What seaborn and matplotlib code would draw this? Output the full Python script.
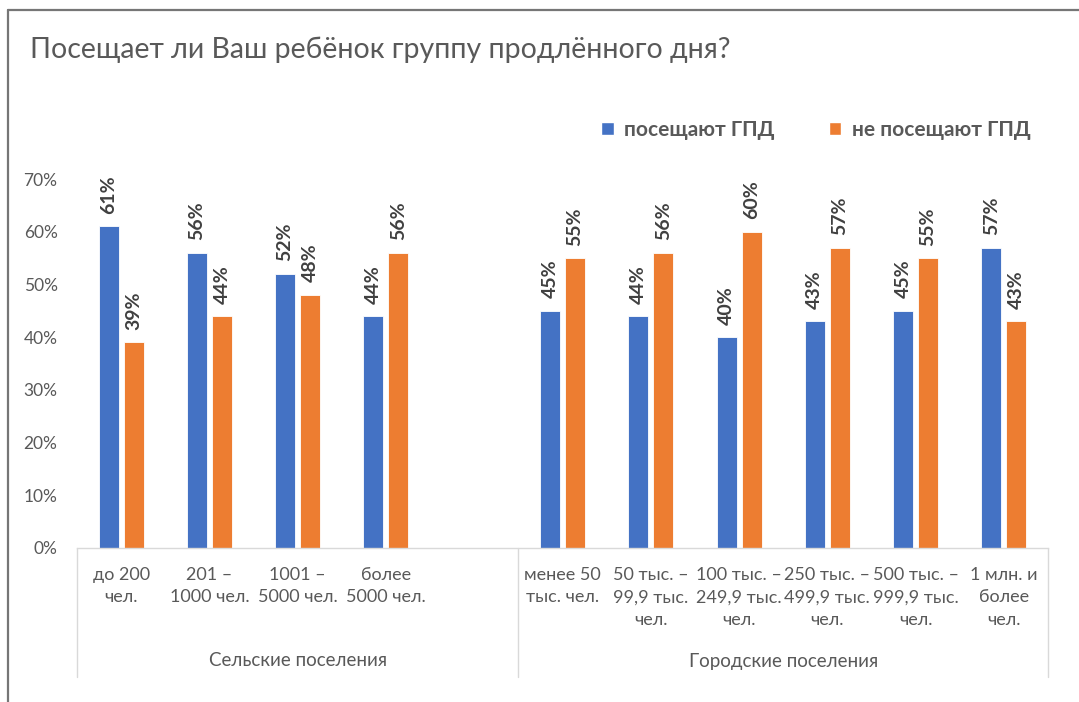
import matplotlib
matplotlib.use("Agg")
import matplotlib.pyplot as plt
import seaborn as sns
import pandas as pd
from matplotlib.patches import Patch
from matplotlib.lines import Line2D

# ---- data ----
title = "Посещает ли Ваш ребёнок группу продлённого дня?"
series_names = ["посещают ГПД", "не посещают ГПД"]
rural_cats = ["до 200\nчел.", "201 –\n1000 чел.", "1001 –\n5000 чел.", "более\n5000 чел."]
urban_cats = ["менее 50\nтыс. чел.", "50 тыс. –\n99,9 тыс.\nчел.", "100 тыс. –\n249,9 тыс.\nчел.",
              "250 тыс. –\n499,9 тыс.\nчел.", "500 тыс. –\n999,9 тыс.\nчел.", "1 млн. и\nболее\nчел."]
rural_attend = [61, 56, 52, 44]
rural_not = [39, 44, 48, 56]
urban_attend = [45, 44, 40, 43, 45, 57]
urban_not = [55, 56, 60, 57, 55, 43]
group_names = ["Сельские поселения", "Городские поселения"]
yticks = [0, 10, 20, 30, 40, 50, 60, 70]

BLUE = "#4472C4"
ORANGE = "#ED7D31"
TXT = "#595959"
LBL = "#404040"
AXC = "#D9D9D9"

# build long table
cats = rural_cats + urban_cats
attend = rural_attend + urban_attend
notatt = rural_not + urban_not
rows = []
for c, a, n in zip(cats, attend, notatt):
    rows.append((c, series_names[0], a))
    rows.append((c, series_names[1], n))
df = pd.DataFrame(rows, columns=["cat", "series", "value"])
gap_cat = " "
order = rural_cats + [gap_cat] + urban_cats

sns.set_style("white")
plt.rcParams["font.family"] = ["Lato", "DejaVu Sans"]

W, H = 1079, 702
fig = plt.figure(figsize=(W / 100, H / 100), dpi=100)
x0, x1, ytop, ybot = 77, 1048, 179, 548
ax = fig.add_axes([x0 / W, 1 - ybot / H, (x1 - x0) / W, (ybot - ytop) / H])

sns.barplot(data=df, x="cat", y="value", hue="series", order=order,
            hue_order=series_names, palette=[BLUE, ORANGE], saturation=1,
            width=0.566, gap=0.2, edgecolor="white", linewidth=0.6, ax=ax, legend=False)

ax.set_ylim(0, 70)
ax.set_xlim(-0.5, len(order) - 0.5)
ax.set_yticks(yticks)
ax.set_yticklabels([f"{t}%" for t in yticks], color=TXT, fontsize=12.5)
ax.tick_params(axis="y", length=0, pad=14)
ax.set_xticks([])
ax.set_xlabel("")
ax.set_ylabel("")
for s in ["top", "right", "left"]:
    ax.spines[s].set_visible(False)
ax.spines["bottom"].set_color(AXC)
ax.spines["bottom"].set_linewidth(1)

# data labels
for cont in ax.containers:
    labels = [f"{v:.0f}%" for v in cont.datavalues]
    ax.bar_label(cont, labels=labels, padding=9, rotation=90, fontsize=14,
                 fontweight="bold", color=LBL)

# category labels
tr = ax.get_xaxis_transform()
for i, c in enumerate(order):
    if c.strip() == "":
        continue
    ax.text(i, (ybot - 567) / (ybot - ytop), c, transform=tr, ha="center", va="top",
            fontsize=13, color=TXT, linespacing=1.5)

# group separators and names
n_rural = len(rural_cats) + 1
ysep = (ybot - 677) / (ybot - ytop)
for xs in [-0.5, n_rural - 0.5, len(order) - 0.5]:
    ax.add_line(Line2D([xs, xs], [0, ysep], transform=tr, color=AXC, lw=1, clip_on=False))
ygrp = (ybot - 661) / (ybot - ytop)
ax.text((n_rural - 1) / 2, ygrp, group_names[0], transform=tr, ha="center", va="center",
        fontsize=13.5, color=TXT)
ax.text((n_rural + len(order) - 1) / 2, ygrp, group_names[1], transform=tr, ha="center",
        va="center", fontsize=13.5, color=TXT)

# legend
handles = [Patch(facecolor=BLUE), Patch(facecolor=ORANGE)]
fig.legend(handles, series_names, loc="center", ncol=2,
           bbox_to_anchor=(816 / W, 1 - 130 / H), frameon=False,
           handlelength=0.6, handleheight=0.6, handletextpad=0.5, columnspacing=2.6,
           prop={"weight": "bold", "size": 15}, labelcolor=TXT)

# title
fig.text(30 / W, 1 - 50 / H, title, ha="left", va="center", fontsize=20.5, color=TXT)

# outer frame
fig.add_artist(Line2D([8 / W, 8 / W], [0, 1 - 10 / H], transform=fig.transFigure,
                      color="#767676", lw=1.6))
fig.add_artist(Line2D([8 / W, 1], [1 - 10 / H, 1 - 10 / H], transform=fig.transFigure,
                      color="#767676", lw=1.6))

fig.savefig("out.png", dpi=100, facecolor="white")
